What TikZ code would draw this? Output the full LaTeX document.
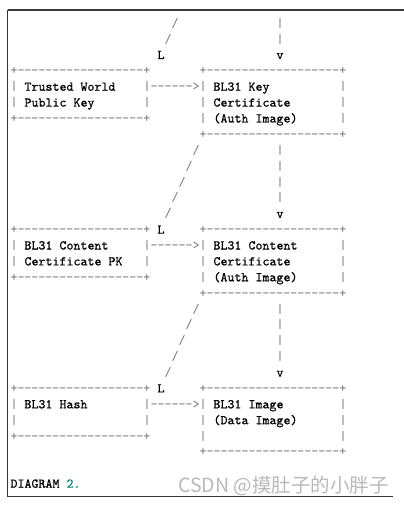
\documentclass[tikz,border=0pt]{standalone}
\usepackage{fontspec}
\newfontfamily\asciimono{lmmono10-regular}[Extension=.otf]
\newfontfamily\asciitext{lmmono10-regular}[Extension=.otf, FakeBold=0.7]
\newfontfamily\cjk{Noto Sans CJK SC}
\definecolor{symgray}{RGB}{112,112,112}
\definecolor{numteal}{RGB}{17,136,119}
\definecolor{framegray}{RGB}{55,55,55}
\definecolor{wmgray}{RGB}{185,185,185}
\tikzset{
  ascii/.style={anchor=base west, inner sep=0pt, outer sep=0pt,
    font=\asciimono\fontsize{13.333pt}{16pt}\selectfont},
  sym/.style={ascii, text=symgray},
  txt/.style={ascii, text=black, font=\asciitext\bfseries\fontsize{13.333pt}{16pt}\selectfont},
  num/.style={txt, text=numteal},
  frame/.style={draw=framegray, line width=1.2pt},
  watermark/.style={anchor=base west, inner sep=0pt, text=wmgray,
    font=\cjk\fontsize{19.5pt}{19.5pt}\selectfont},
}
\newcommand\Put[5]{\node[#1] (#2) at ({10.5+7*(#3)},{27.2+15.88*(#4)}) {#5};}
\begin{document}
\begin{tikzpicture}[x=1pt,y=-1pt]
\useasboundingbox (0,0) rectangle (404,509);
% frame of the code block
\draw[frame] (7.5,10) -- (404,10);
\draw[frame] (7.5,10) -- (7.5,496.5) -- (393,496.5);
% top connector remnants
\Put{sym}{s0}{23}{0}{/}
\Put{sym}{k0}{38}{0}{|}
\Put{sym}{s1}{22}{1}{/}
\Put{sym}{k1}{38}{1}{|}
\Put{txt}{L1}{21}{2}{L}
\Put{txt}{v1}{38}{2}{v}
% block 1
\Put{sym}{A1t}{0}{3}{+------------------+}
\Put{sym}{B1t}{27}{3}{+-------------------+}
\Put{sym}{A1l4}{0}{4}{|}
\Put{txt}{A1x4}{2}{4}{Trusted World}
\Put{sym}{E1}{19}{4}{|------>|}
\Put{txt}{B1x4}{29}{4}{BL31 Key}
\Put{sym}{B1r4}{47}{4}{|}
\Put{sym}{A1l5}{0}{5}{|}
\Put{txt}{A1x5}{2}{5}{Public Key}
\Put{sym}{A1r5}{19}{5}{|}
\Put{sym}{B1l5}{27}{5}{|}
\Put{txt}{B1x5}{29}{5}{Certificate}
\Put{sym}{B1r5}{47}{5}{|}
\Put{sym}{A1b}{0}{6}{+------------------+}
\Put{sym}{B1l6}{27}{6}{|}
\Put{txt}{B1x6}{29}{6}{(Auth Image)}
\Put{sym}{B1r6}{47}{6}{|}
\Put{sym}{B1b}{27}{7}{+-------------------+}
% connectors 1 -> 2
\foreach \r/\c in {8/26,9/25,10/24,11/23,12/22}{\Put{sym}{sa\r}{\c}{\r}{/}}
\foreach \r in {8,9,10,11}{\Put{sym}{ka\r}{38}{\r}{|}}
\Put{txt}{v2}{38}{12}{v}
% block 2
\Put{sym}{A2t}{0}{13}{+------------------+}
\Put{txt}{L2}{21}{13}{L}
\Put{sym}{B2t}{27}{13}{+-------------------+}
\Put{sym}{A2l14}{0}{14}{|}
\Put{txt}{A2x14}{2}{14}{BL31 Content}
\Put{sym}{E2}{19}{14}{|------>|}
\Put{txt}{B2x14}{29}{14}{BL31 Content}
\Put{sym}{B2r14}{47}{14}{|}
\Put{sym}{A2l15}{0}{15}{|}
\Put{txt}{A2x15}{2}{15}{Certificate PK}
\Put{sym}{A2r15}{19}{15}{|}
\Put{sym}{B2l15}{27}{15}{|}
\Put{txt}{B2x15}{29}{15}{Certificate}
\Put{sym}{B2r15}{47}{15}{|}
\Put{sym}{A2b}{0}{16}{+------------------+}
\Put{sym}{B2l16}{27}{16}{|}
\Put{txt}{B2x16}{29}{16}{(Auth Image)}
\Put{sym}{B2r16}{47}{16}{|}
\Put{sym}{B2b}{27}{17}{+-------------------+}
% connectors 2 -> 3
\foreach \r/\c in {18/26,19/25,20/24,21/23,22/22}{\Put{sym}{sb\r}{\c}{\r}{/}}
\foreach \r in {18,19,20,21}{\Put{sym}{kb\r}{38}{\r}{|}}
\Put{txt}{v3}{38}{22}{v}
% block 3
\Put{sym}{A3t}{0}{23}{+------------------+}
\Put{txt}{L3}{21}{23}{L}
\Put{sym}{B3t}{27}{23}{+-------------------+}
\Put{sym}{A3l24}{0}{24}{|}
\Put{txt}{A3x24}{2}{24}{BL31 Hash}
\Put{sym}{E3}{19}{24}{|------>|}
\Put{txt}{B3x24}{29}{24}{BL31 Image}
\Put{sym}{B3r24}{47}{24}{|}
\Put{sym}{A3l25}{0}{25}{|}
\Put{sym}{A3r25}{19}{25}{|}
\Put{sym}{B3l25}{27}{25}{|}
\Put{txt}{B3x25}{29}{25}{(Data Image)}
\Put{sym}{B3r25}{47}{25}{|}
\Put{sym}{A3b}{0}{26}{+------------------+}
\Put{sym}{B3l26}{27}{26}{|}
\Put{sym}{B3r26}{47}{26}{|}
\Put{sym}{B3b}{27}{27}{+-------------------+}
% caption
\Put{txt}{cap}{0}{29}{DIAGRAM}
\Put{num}{capn}{8}{29}{2.}
% watermark
\node[watermark] (wm) at (178,492) {CSDN @摸肚子的小胖子};
\end{tikzpicture}
\end{document}
